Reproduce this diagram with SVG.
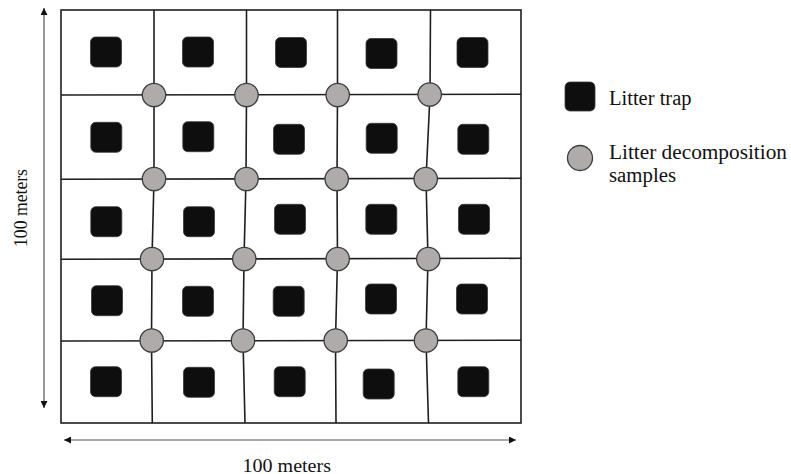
<svg xmlns="http://www.w3.org/2000/svg" width="791" height="474" viewBox="0 0 791 474">
  <style>
    .grid { fill: none; stroke: #1e1e1e; stroke-width: 1.6; }
    .trap { fill: #0e0e0e; stroke: #3a3a3a; stroke-width: 0.8; }
    .sample { fill: #afabab; stroke: #3c3c3c; stroke-width: 1.3; }
    .dim { stroke: #555; stroke-width: 1.2; fill: none; }
    .lbl { font-family: "Liberation Serif", "Times New Roman", serif; fill: #111; }
  </style>
  <defs>
    <marker id="head" viewBox="0 0 10 10" refX="10" refY="5" markerWidth="9" markerHeight="7" markerUnits="userSpaceOnUse" orient="auto-start-reverse">
      <path d="M0,0 L10,5 L0,10 z" fill="#111"/>
    </marker>
    <rect id="sq" x="-15.5" y="-15" width="31" height="30" rx="5"/>
  </defs>

  <rect width="791" height="474" fill="#fff"/>

  <!-- plot outline and subplot grid -->
  <g id="connectors">
    <rect class="grid" x="61" y="10" width="460" height="413"/>
    <polyline class="grid" points="61,95 521,94.3"/>
    <polyline class="grid" points="61,179.3 521,178.3"/>
    <polyline class="grid" points="61,259.3 521,258.3"/>
    <polyline class="grid" points="61,341 521,340.3"/>
    <polyline class="grid" points="154,10 154,95 154,179 152,259 151.5,340 152.3,423"/>
    <polyline class="grid" points="246.5,10 246.5,95 246,179 244,259 243,340 245,423"/>
    <polyline class="grid" points="337.5,10 337.5,95 337,179 337.5,259 335.5,340 336,423"/>
    <polyline class="grid" points="430.5,10 430,95 426,179 428,259 426,340 428.5,423"/>
    <!-- dimension arrows -->
    <line class="dim" x1="44" y1="8" x2="44" y2="408" marker-start="url(#head)" marker-end="url(#head)"/>
    <line class="dim" x1="64" y1="440" x2="516" y2="440" marker-start="url(#head)" marker-end="url(#head)"/>
  </g>

  <!-- litter traps, one per subplot -->
  <g id="traps">
    <use href="#sq" class="trap" x="106" y="52"/>
    <use href="#sq" class="trap" x="198" y="52"/>
    <use href="#sq" class="trap" x="291" y="52.5"/>
    <use href="#sq" class="trap" x="381.5" y="53.5"/>
    <use href="#sq" class="trap" x="472.5" y="52.5"/>

    <use href="#sq" class="trap" x="106.3" y="137.3"/>
    <use href="#sq" class="trap" x="198.3" y="136.7"/>
    <use href="#sq" class="trap" x="289" y="139.3"/>
    <use href="#sq" class="trap" x="381.7" y="138.3"/>
    <use href="#sq" class="trap" x="473.3" y="139.3"/>

    <use href="#sq" class="trap" x="106.3" y="221.7"/>
    <use href="#sq" class="trap" x="199" y="221.7"/>
    <use href="#sq" class="trap" x="290" y="219.3"/>
    <use href="#sq" class="trap" x="381.3" y="219.3"/>
    <use href="#sq" class="trap" x="474" y="219.3"/>

    <use href="#sq" class="trap" x="107" y="300.7"/>
    <use href="#sq" class="trap" x="198" y="301.3"/>
    <use href="#sq" class="trap" x="288.7" y="301.3"/>
    <use href="#sq" class="trap" x="381" y="299"/>
    <use href="#sq" class="trap" x="472" y="299"/>

    <use href="#sq" class="trap" x="106" y="381.7"/>
    <use href="#sq" class="trap" x="199" y="382.3"/>
    <use href="#sq" class="trap" x="289.7" y="381.7"/>
    <use href="#sq" class="trap" x="378.7" y="384"/>
    <use href="#sq" class="trap" x="473.3" y="381.7"/>
  </g>

  <!-- decomposition samples at interior grid intersections -->
  <g id="samples">
    <circle class="sample" cx="154" cy="95" r="11.7"/>
    <circle class="sample" cx="246.5" cy="95" r="11.7"/>
    <circle class="sample" cx="337.7" cy="95" r="11.7"/>
    <circle class="sample" cx="429.7" cy="94.5" r="11.7"/>

    <circle class="sample" cx="154" cy="179" r="11.7"/>
    <circle class="sample" cx="246.5" cy="179" r="11.7"/>
    <circle class="sample" cx="336.7" cy="179" r="11.7"/>
    <circle class="sample" cx="425.7" cy="179" r="11.7"/>

    <circle class="sample" cx="152" cy="259" r="11.7"/>
    <circle class="sample" cx="244.3" cy="259" r="11.7"/>
    <circle class="sample" cx="337.7" cy="259" r="11.7"/>
    <circle class="sample" cx="428.3" cy="259" r="11.7"/>

    <circle class="sample" cx="151.7" cy="340.5" r="11.7"/>
    <circle class="sample" cx="243" cy="340.5" r="11.7"/>
    <circle class="sample" cx="335.7" cy="340.5" r="11.7"/>
    <circle class="sample" cx="426" cy="340.5" r="11.7"/>
  </g>

  <!-- dimension labels -->
  <g id="label-width">
    <text class="lbl" x="242.5" y="471.5" font-size="19" textLength="88.5" lengthAdjust="spacingAndGlyphs">100 meters</text>
  </g>
  <g id="label-height">
    <text class="lbl" transform="translate(27,247) rotate(-90)" font-size="19.5" textLength="78" lengthAdjust="spacingAndGlyphs">100 meters</text>
  </g>

  <!-- legend -->
  <g id="legend-trap">
    <rect class="trap" x="565" y="82" width="30" height="29" rx="5"/>
    <text class="lbl" x="609" y="104.5" font-size="20.5">Litter trap</text>
  </g>
  <g id="legend-sample">
    <circle class="sample" cx="580" cy="158" r="12.5"/>
    <text class="lbl" x="609" y="159" font-size="20.8" textLength="178" lengthAdjust="spacingAndGlyphs">Litter decomposition</text>
    <text class="lbl" x="609" y="181.5" font-size="20.8">samples</text>
  </g>
</svg>
